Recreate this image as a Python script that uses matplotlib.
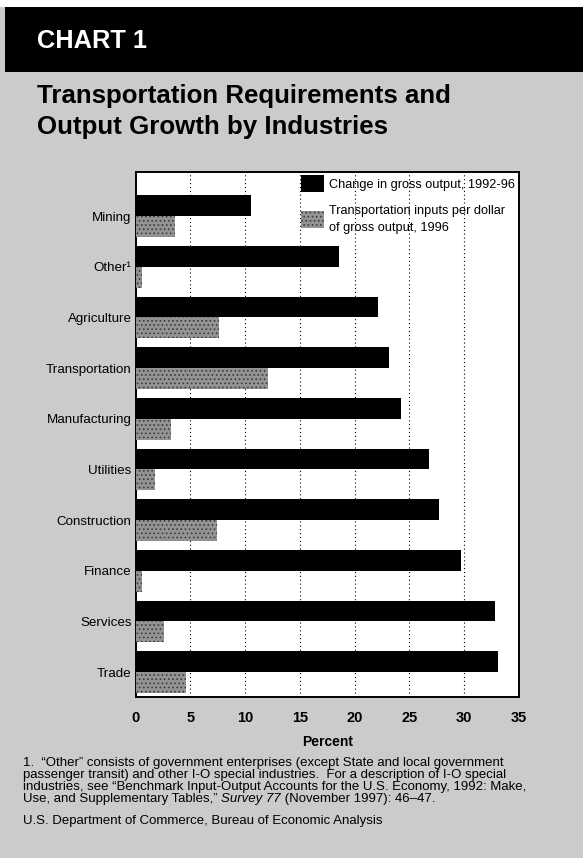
import matplotlib
matplotlib.use("Agg")
import matplotlib.pyplot as plt
from matplotlib.patches import Rectangle

industries = ["Mining", "Other¹", "Agriculture", "Transportation", "Manufacturing",
              "Utilities", "Construction", "Finance", "Services", "Trade"]
output_change = [10.5, 18.6, 22.1, 23.1, 24.2, 26.8, 27.7, 29.7, 32.8, 33.1]
transport_inputs = [3.6, 0.6, 7.6, 12.1, 3.2, 1.8, 7.4, 0.6, 2.6, 4.6]
x_ticks = [0, 5, 10, 15, 20, 25, 30, 35]

FONT = "Liberation Sans"
BG = "#cbcbcb"
GRAY = "#939393"

plt.rcParams["font.family"] = [FONT, "DejaVu Sans"]
plt.rcParams["hatch.linewidth"] = 0.7

W, H = 583, 858
fig = plt.figure(figsize=(W / 100, H / 100), dpi=100, facecolor=BG)
renderer = fig.canvas.get_renderer()


def fit(t, width_px):
    # scale font so the text spans the width it has in the scan
    bb = t.get_window_extent(renderer)
    t.set_fontsize(t.get_fontsize() * width_px / bb.width)
    return t.get_fontsize()


# header band
fig.patches.append(Rectangle((5 / W, 1 - 72 / H), 1, 65 / H, transform=fig.transFigure,
                             facecolor="black", edgecolor="none", zorder=0))
fig.patches.append(Rectangle((0, 1 - 7 / H), 1, 7 / H, transform=fig.transFigure,
                             facecolor="white", edgecolor="none", zorder=0))
hdr = fig.text(37 / W, 1 - 41 / H, "CHART 1", color="white", fontsize=16,
               fontweight="bold", va="center", ha="left")
fit(hdr, 110)

t1 = fig.text(37 / W, 1 - 96 / H, "Transportation Requirements and", fontsize=20,
              fontweight="bold", va="center", ha="left")
size = fit(t1, 413)
fig.text(37 / W, 1 - 127 / H, "Output Growth by Industries", fontsize=size,
         fontweight="bold", va="center", ha="left")

ax = fig.add_axes([135.7 / W, 1 - 697 / H, (519 - 135.7) / W, (697 - 172) / H])
ax.set_facecolor("white")

pos = list(range(len(industries)))
bh = 0.41
ax.barh([p - bh / 2 for p in pos], output_change, height=bh, color="black",
        label="Change in gross output, 1992-96", zorder=3)
ax.barh([p + bh / 2 for p in pos], transport_inputs, height=bh, color=GRAY,
        edgecolor="#3c3c3c", linewidth=0, hatch="....",
        label="Transportation inputs per dollar\nof gross output, 1996", zorder=3)

ax.set_xlim(0, 34.85)
ax.set_ylim(9.49, -0.87)
ax.set_xticks(x_ticks)
ax.set_xticklabels([str(t) for t in x_ticks], fontsize=10.5, fontweight="bold")
ax.set_yticks(pos)
ylabels = ax.set_yticklabels(industries, fontsize=10)
lab_size = fit(ylabels[3], 86)
for lb in ylabels:
    lb.set_fontsize(lab_size)
ax.tick_params(axis="both", length=0)
ax.tick_params(axis="x", pad=10)
ax.tick_params(axis="y", pad=3)
ax.grid(axis="x", color="black", linestyle=(0, (1, 2.5)), linewidth=0.8, zorder=1)
for s in ax.spines.values():
    s.set_linewidth(1.4)

leg = ax.legend(loc="upper left", bbox_to_anchor=(296 / W, 1 - 170 / H),
                bbox_transform=fig.transFigure, frameon=False,
                prop={"size": 9.5}, handlelength=1.7, handleheight=1.6,
                labelspacing=1.0, handletextpad=0.4, borderaxespad=0)
fit(leg.get_texts()[0], 187)
for t in leg.get_texts():
    t.set_fontsize(leg.get_texts()[0].get_fontsize())
    t.set_linespacing(1.5)

fig.text(328 / W, 1 - 742 / H, "Percent", fontsize=10, fontweight="bold",
         ha="center", va="center")

foot = [
    "1.  \u201cOther\u201d consists of government enterprises (except State and local government",
    "passenger transit) and other I-O special industries.  For a description of I-O special",
    "industries, see \u201cBenchmark Input-Output Accounts for the U.S. Economy, 1992: Make,",
]
fy = 763
lines = []
for line in foot:
    lines.append(fig.text(23 / W, 1 - fy / H, line, fontsize=9, va="center", ha="left"))
    fy += 12
fsize = fit(lines[2], 505)
for t in lines:
    t.set_fontsize(fsize)

x0 = 23 / W
parts = [("Use, and Supplementary Tables,\u201d ", "normal"), ("Survey 77", "italic"),
         (" (November 1997): 46\u201347.", "normal")]
for txt, style in parts:
    t = fig.text(x0, 1 - fy / H, txt, fontsize=fsize, style=style,
                 va="center", ha="left")
    bb = t.get_window_extent(renderer)
    x0 += bb.width / W

fig.text(23 / W, 1 - 821 / H, "U.S. Department of Commerce, Bureau of Economic Analysis",
         fontsize=fsize, va="center", ha="left")

fig.savefig("out.png", dpi=100, facecolor=BG)
